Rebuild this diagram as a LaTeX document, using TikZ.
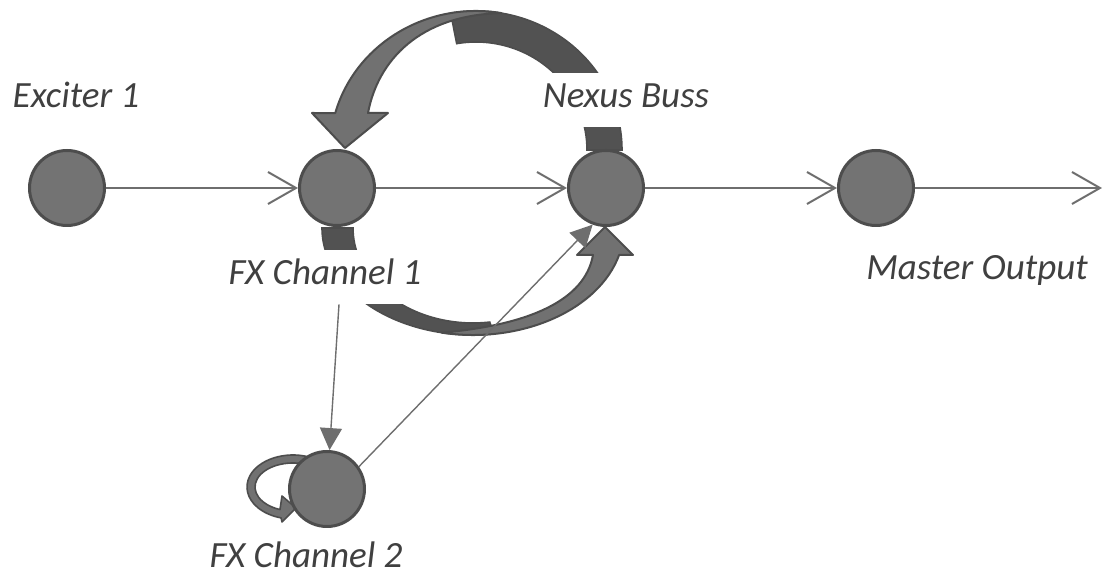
\documentclass[tikz,border=0pt]{standalone}
\usepackage{fontspec}
\setmainfont{Carlito}
\usetikzlibrary{arrows.meta}
\definecolor{dotfill}{HTML}{737373}
\definecolor{dotline}{HTML}{4D4D4D}
\definecolor{backc}{HTML}{525252}
\definecolor{frontc}{HTML}{717171}
\definecolor{flowc}{HTML}{6E6E6E}
\definecolor{txt}{HTML}{404040}
\tikzset{
  dot/.style={circle,draw=dotline,fill=dotfill,line width=1.5pt,minimum size=37.5pt,inner sep=0pt},
  tag/.style={fill=white,inner xsep=4pt,inner ysep=5.5pt,text height=12pt,text depth=4pt,
    font=\fontsize{18.5}{22}\selectfont\itshape,text=txt},
  flow/.style={draw=flowc,line width=1pt,-{Straight Barb[length=14pt,width=16pt]}},
  send/.style={draw=flowc,line width=0.7pt,-{Triangle[length=11pt,width=11pt]}},
  back/.style={fill=backc,draw=dotline,line width=0.8pt},
  front/.style={fill=frontc,draw=dotline,line width=1pt,line join=round},
}

\begin{document}
\begin{tikzpicture}[x=0.5pt,y=0.5pt]
  \useasboundingbox (0,0) rectangle (1105,583);
  % upper return arrow (Nexus -> FX 1)
  \path[back] (622,433) arc[start angle=0,end angle=100,x radius=146,y radius=139]
    -- ({476+111*cos(100)},{433+108*sin(100)})
    arc[start angle=100,end angle=0,x radius=111,y radius=108] -- cycle;
  \path[front] ({476+146*cos(80)},{433+139*sin(80)})
    arc[start angle=80,end angle=164.6,x radius=146,y radius=139]
    -- (312,470) -- (345,435) -- (388,470) -- (368,470)
    .. controls (378,523) and (420,568) .. ({476+146*cos(80)},{433+139*sin(80)}) -- cycle;
  % lower send arrow (FX 1 -> Nexus)
  \path[back] (322,355) arc[start angle=180,end angle=278,x radius=151,y radius=107]
    -- ({473+120*cos(278)},{355+95*sin(278)})
    arc[start angle=278,end angle=180,x radius=120,y radius=95] -- cycle;
  \path[front] ({473+151*cos(258)},{355+107*sin(258)})
    arc[start angle=258,end angle=345.4,x radius=151,y radius=107]
    -- (633,328) -- (605,356) -- (577,328) -- (593,328)
    .. controls (585,283) and (530,258) .. ({473+151*cos(258)},{355+107*sin(258)}) -- cycle;
  % small loop on FX 2
  \path[front,line width=0.8pt] ({293+46*cos(70)},{96+32*sin(70)})
    arc[start angle=70,end angle=255,x radius=46,y radius=32]
    -- (282,61) -- (296,75) -- (282,87)
    -- ({293+38*cos(250)},{96+24*sin(250)})
    arc[start angle=250,end angle=70,x radius=38,y radius=24] -- cycle;

  \node[dot] (exc) at (67,395) {};
  \node[dot] (fx1) at (337,395) {};
  \node[dot] (nexus) at (606,395) {};
  \node[dot] (master) at (876,395) {};
  \node[dot] (fx2) at (327,94) {};
  \coordinate (out) at (1102,395);

  \node[tag] (lexc) at (76,483) {Exciter 1};
  \node[tag] (lnexus) at (626,483) {Nexus Buss};
  \node[tag] (lfx1) at (325,306) {FX Channel 1};
  \node[tag] (lmaster) at (977,311) {Master Output};
  \node[tag] (lfx2) at (306,23) {FX Channel 2};

  \draw[flow] (exc) -- (fx1);
  \draw[flow] (fx1) -- (nexus);
  \draw[flow] (nexus) -- (master);
  \draw[flow] (master) -- (out);
  \draw[send] ([xshift=7pt]lfx1.south) -- (fx2);
  \draw[send] (fx2.35) -- (nexus.250);
\end{tikzpicture}
\end{document}
